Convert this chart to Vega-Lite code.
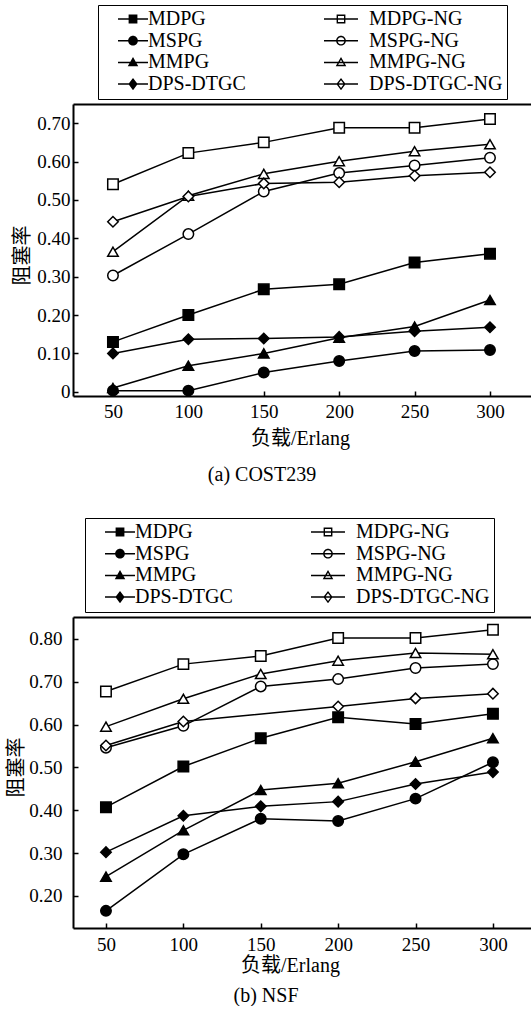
{
  "$schema": "https://vega.github.io/schema/vega-lite/v6.json",
  "background": "white",
  "padding": {"left": 6, "top": 4, "right": 0, "bottom": 0},
  "config": {
    "font": "Liberation Serif, Noto Sans CJK SC",
    "view": {"stroke": null},
    "axis": {
      "domainColor": "black", "domainWidth": 2, "tickColor": "black", "tickWidth": 1.5, "tickSize": -5,
      "labelColor": "black", "titleColor": "black", "labelFont": "Liberation Serif", "labelFontSize": 19,
      "titleFont": "Liberation Serif, Noto Sans CJK SC", "titleFontSize": 20, "titleFontWeight": "normal", "grid": false
    },
    "legend": {
      "strokeColor": "black", "fillColor": "white", "padding": 4, "columns": 2, "rowPadding": 1.7,
      "symbolSize": 1936, "symbolStrokeWidth": 1.5, "symbolOpacity": 1, "symbolFillColor": "black",
      "clipHeight": 20, "labelOffset": 0,
      "labelFont": "Liberation Serif", "labelFontSize": 20, "labelColor": "black", "labelLimit": 300
    },
    "title": {"font": "Liberation Serif", "fontSize": 20, "fontWeight": "normal", "color": "black"}
  },
  "vconcat": [
    {
      "width": 458, "height": 292,
      "title": {"text": "(a) COST239", "orient": "bottom", "anchor": "middle", "dx": -40, "offset": 17},
      "data": {"values": [
        {"load": 50, "series": "MDPG", "rate": 0.130}, {"load": 100, "series": "MDPG", "rate": 0.200}, {"load": 150, "series": "MDPG", "rate": 0.267}, {"load": 200, "series": "MDPG", "rate": 0.280}, {"load": 250, "series": "MDPG", "rate": 0.337}, {"load": 300, "series": "MDPG", "rate": 0.360},
        {"load": 50, "series": "MSPG", "rate": 0.003}, {"load": 100, "series": "MSPG", "rate": 0.003}, {"load": 150, "series": "MSPG", "rate": 0.050}, {"load": 200, "series": "MSPG", "rate": 0.080}, {"load": 250, "series": "MSPG", "rate": 0.106}, {"load": 300, "series": "MSPG", "rate": 0.109},
        {"load": 50, "series": "MMPG", "rate": 0.010}, {"load": 100, "series": "MMPG", "rate": 0.068}, {"load": 150, "series": "MMPG", "rate": 0.100}, {"load": 200, "series": "MMPG", "rate": 0.141}, {"load": 250, "series": "MMPG", "rate": 0.170}, {"load": 300, "series": "MMPG", "rate": 0.239},
        {"load": 50, "series": "DPS-DTGC", "rate": 0.100}, {"load": 100, "series": "DPS-DTGC", "rate": 0.137}, {"load": 150, "series": "DPS-DTGC", "rate": 0.139}, {"load": 200, "series": "DPS-DTGC", "rate": 0.143}, {"load": 250, "series": "DPS-DTGC", "rate": 0.158}, {"load": 300, "series": "DPS-DTGC", "rate": 0.168},
        {"load": 50, "series": "MDPG-NG", "rate": 0.541}, {"load": 100, "series": "MDPG-NG", "rate": 0.622}, {"load": 150, "series": "MDPG-NG", "rate": 0.650}, {"load": 200, "series": "MDPG-NG", "rate": 0.688}, {"load": 250, "series": "MDPG-NG", "rate": 0.688}, {"load": 300, "series": "MDPG-NG", "rate": 0.711},
        {"load": 50, "series": "MSPG-NG", "rate": 0.303}, {"load": 100, "series": "MSPG-NG", "rate": 0.411}, {"load": 150, "series": "MSPG-NG", "rate": 0.522}, {"load": 200, "series": "MSPG-NG", "rate": 0.570}, {"load": 250, "series": "MSPG-NG", "rate": 0.590}, {"load": 300, "series": "MSPG-NG", "rate": 0.610},
        {"load": 50, "series": "MMPG-NG", "rate": 0.365}, {"load": 100, "series": "MMPG-NG", "rate": 0.511}, {"load": 150, "series": "MMPG-NG", "rate": 0.568}, {"load": 200, "series": "MMPG-NG", "rate": 0.601}, {"load": 250, "series": "MMPG-NG", "rate": 0.627}, {"load": 300, "series": "MMPG-NG", "rate": 0.645},
        {"load": 50, "series": "DPS-DTGC-NG", "rate": 0.443}, {"load": 100, "series": "DPS-DTGC-NG", "rate": 0.509}, {"load": 150, "series": "DPS-DTGC-NG", "rate": 0.543}, {"load": 200, "series": "DPS-DTGC-NG", "rate": 0.546}, {"load": 250, "series": "DPS-DTGC-NG", "rate": 0.563}, {"load": 300, "series": "DPS-DTGC-NG", "rate": 0.572}
      ]},
      "resolve": {"axis": {"x": "independent"}, "scale": {"shape": "independent"}},
      "encoding": {
        "y": {"field": "rate", "type": "quantitative", "scale": {"domain": [-0.011, 0.75], "nice": false, "zero": false},
              "axis": {"values": [0, 0.1, 0.2, 0.3, 0.4, 0.5, 0.6, 0.7], "labelExpr": "datum.value === 0 ? '0' : format(datum.value, '.2f')",
                       "title": "阻塞率", "titleX": -51, "titleY": 151, "titleBaseline": "middle", "labelPadding": 8}}
      },
      "layer": [
        {
          "mark": {"type": "line", "stroke": "black", "strokeWidth": 1.5},
          "encoding": {
            "x": {"field": "load", "type": "quantitative", "scale": {"domain": [23.5, 327.2], "nice": false},
                  "axis": {"orient": "bottom", "values": [50, 100, 150, 200, 250, 300], "title": "负载/Erlang", "titleX": 227, "labelPadding": 11, "titlePadding": 7}},
            "detail": {"field": "series"}
          }
        },
        {
          "mark": {"type": "point", "stroke": "black", "strokeWidth": 1.5, "size": 110, "opacity": 1},
          "encoding": {
            "x": {"field": "load", "type": "quantitative",
                  "axis": {"orient": "top", "labels": false, "ticks": false, "title": null, "domain": true}},
            "shape": {"field": "series", "type": "nominal",
              "scale": {"domain": ["MDPG", "MDPG-NG", "MSPG", "MSPG-NG", "MMPG", "MMPG-NG", "DPS-DTGC", "DPS-DTGC-NG"],
                        "range": ["square", "square", "circle", "circle", "triangle-up", "triangle-up", "diamond", "diamond"]},
              "legend": null},
            "fill": {"field": "series", "type": "nominal",
              "scale": {"domain": ["MDPG", "MSPG", "MMPG", "DPS-DTGC", "MDPG-NG", "MSPG-NG", "MMPG-NG", "DPS-DTGC-NG"],
                        "range": ["black", "black", "black", "black", "white", "white", "white", "white"]},
              "legend": null}
          }
        },
        {
          "mark": {"type": "point", "filled": true, "color": "black", "size": 1936, "opacity": 0},
          "encoding": {
            "x": {"field": "load", "type": "quantitative", "axis": null},
            "shape": {"field": "series", "type": "nominal",
              "scale": {"domain": ["MDPG", "MSPG", "MMPG", "DPS-DTGC", "MDPG-NG", "MSPG-NG", "MMPG-NG", "DPS-DTGC-NG"],
                        "range": [
                          "M-1.045,0M-0.318,-0.034L1.045,-0.034L1.045,0.034L-0.318,0.034ZM0.164,-0.2L0.564,-0.2L0.564,0.2L0.164,0.2Z",
                          "M-1.045,0M-0.318,-0.034L1.045,-0.034L1.045,0.034L-0.318,0.034ZM0.144,0A0.22,0.22,0,1,1,0.584,0A0.22,0.22,0,1,1,0.144,0Z",
                          "M-1.045,0M-0.318,-0.034L1.045,-0.034L1.045,0.034L-0.318,0.034ZM0.364,-0.25L0.604,0.17L0.124,0.17Z",
                          "M-1.045,0M-0.318,-0.034L1.045,-0.034L1.045,0.034L-0.318,0.034ZM0.364,-0.28L0.574,0L0.364,0.28L0.154,0Z",
                          "M-1,-0.034L0.545,-0.034L0.545,0.034L-1,0.034ZM-0.427,-0.2L-0.027,-0.2L-0.027,0.2L-0.427,0.2ZM-0.363,-0.136L-0.363,0.136L-0.091,0.136L-0.091,-0.136Z",
                          "M-1,-0.034L0.545,-0.034L0.545,0.034L-1,0.034ZM-0.447,0A0.22,0.22,0,1,1,-0.007,0A0.22,0.22,0,1,1,-0.447,0ZM-0.383,0A0.156,0.156,0,1,0,-0.071,0A0.156,0.156,0,1,0,-0.383,0Z",
                          "M-1,-0.034L0.545,-0.034L0.545,0.034L-1,0.034ZM-0.227,-0.25L0.013,0.17L-0.467,0.17ZM-0.227,-0.121L-0.357,0.106L-0.097,0.106Z",
                          "M-1,-0.034L0.545,-0.034L0.545,0.034L-1,0.034ZM-0.227,-0.28L-0.017,0L-0.227,0.28L-0.437,0ZM-0.227,-0.173L-0.357,0L-0.227,0.173L-0.097,0Z"
                        ]},
              "legend": {"title": null, "orient": "none", "legendX": 25, "legendY": -99, "columnPadding": 77}}
          }
        }
      ]
    },
    {
      "width": 458, "height": 311,
      "title": {"text": "(b) NSF", "orient": "bottom", "anchor": "middle", "dx": -36, "offset": 11},
      "data": {"values": [
        {"load": 50, "series": "MDPG", "rate": 0.407}, {"load": 100, "series": "MDPG", "rate": 0.502}, {"load": 150, "series": "MDPG", "rate": 0.568}, {"load": 200, "series": "MDPG", "rate": 0.617}, {"load": 250, "series": "MDPG", "rate": 0.601}, {"load": 300, "series": "MDPG", "rate": 0.625},
        {"load": 50, "series": "MSPG", "rate": 0.165}, {"load": 100, "series": "MSPG", "rate": 0.297}, {"load": 150, "series": "MSPG", "rate": 0.380}, {"load": 200, "series": "MSPG", "rate": 0.375}, {"load": 250, "series": "MSPG", "rate": 0.427}, {"load": 300, "series": "MSPG", "rate": 0.512},
        {"load": 50, "series": "MMPG", "rate": 0.245}, {"load": 100, "series": "MMPG", "rate": 0.353}, {"load": 150, "series": "MMPG", "rate": 0.447}, {"load": 200, "series": "MMPG", "rate": 0.463}, {"load": 250, "series": "MMPG", "rate": 0.513}, {"load": 300, "series": "MMPG", "rate": 0.568},
        {"load": 50, "series": "DPS-DTGC", "rate": 0.302}, {"load": 100, "series": "DPS-DTGC", "rate": 0.387}, {"load": 150, "series": "DPS-DTGC", "rate": 0.409}, {"load": 200, "series": "DPS-DTGC", "rate": 0.420}, {"load": 250, "series": "DPS-DTGC", "rate": 0.461}, {"load": 300, "series": "DPS-DTGC", "rate": 0.489},
        {"load": 50, "series": "MDPG-NG", "rate": 0.677}, {"load": 100, "series": "MDPG-NG", "rate": 0.741}, {"load": 150, "series": "MDPG-NG", "rate": 0.760}, {"load": 200, "series": "MDPG-NG", "rate": 0.802}, {"load": 250, "series": "MDPG-NG", "rate": 0.802}, {"load": 300, "series": "MDPG-NG", "rate": 0.821},
        {"load": 50, "series": "MSPG-NG", "rate": 0.546}, {"load": 100, "series": "MSPG-NG", "rate": 0.597}, {"load": 150, "series": "MSPG-NG", "rate": 0.689}, {"load": 200, "series": "MSPG-NG", "rate": 0.706}, {"load": 250, "series": "MSPG-NG", "rate": 0.732}, {"load": 300, "series": "MSPG-NG", "rate": 0.741},
        {"load": 50, "series": "MMPG-NG", "rate": 0.595}, {"load": 100, "series": "MMPG-NG", "rate": 0.660}, {"load": 150, "series": "MMPG-NG", "rate": 0.718}, {"load": 200, "series": "MMPG-NG", "rate": 0.749}, {"load": 250, "series": "MMPG-NG", "rate": 0.767}, {"load": 300, "series": "MMPG-NG", "rate": 0.764},
        {"load": 50, "series": "DPS-DTGC-NG", "rate": 0.551}, {"load": 100, "series": "DPS-DTGC-NG", "rate": 0.607}, {"load": 200, "series": "DPS-DTGC-NG", "rate": 0.642}, {"load": 250, "series": "DPS-DTGC-NG", "rate": 0.661}, {"load": 300, "series": "DPS-DTGC-NG", "rate": 0.672}
      ]},
      "resolve": {"axis": {"x": "independent"}, "scale": {"shape": "independent"}},
      "encoding": {
        "y": {"field": "rate", "type": "quantitative", "scale": {"domain": [0.125, 0.851], "nice": false, "zero": false},
              "axis": {"values": [0.2, 0.3, 0.4, 0.5, 0.6, 0.7, 0.8], "format": ".2f",
                       "title": "阻塞率", "titleX": -57, "titleY": 150, "titleBaseline": "middle", "labelPadding": 16}}
      },
      "layer": [
        {
          "mark": {"type": "line", "stroke": "black", "strokeWidth": 1.5},
          "encoding": {
            "x": {"field": "load", "type": "quantitative", "scale": {"domain": [28.7, 324.6], "nice": false},
                  "axis": {"orient": "bottom", "values": [50, 100, 150, 200, 250, 300], "title": "负载/Erlang", "titleX": 217, "labelPadding": 12, "titlePadding": 1}},
            "detail": {"field": "series"}
          }
        },
        {
          "mark": {"type": "point", "stroke": "black", "strokeWidth": 1.5, "size": 110, "opacity": 1},
          "encoding": {
            "x": {"field": "load", "type": "quantitative",
                  "axis": {"orient": "top", "labels": false, "ticks": false, "title": null, "domain": true}},
            "shape": {"field": "series", "type": "nominal",
              "scale": {"domain": ["MDPG", "MDPG-NG", "MSPG", "MSPG-NG", "MMPG", "MMPG-NG", "DPS-DTGC", "DPS-DTGC-NG"],
                        "range": ["square", "square", "circle", "circle", "triangle-up", "triangle-up", "diamond", "diamond"]},
              "legend": null},
            "fill": {"field": "series", "type": "nominal",
              "scale": {"domain": ["MDPG", "MSPG", "MMPG", "DPS-DTGC", "MDPG-NG", "MSPG-NG", "MMPG-NG", "DPS-DTGC-NG"],
                        "range": ["black", "black", "black", "black", "white", "white", "white", "white"]},
              "legend": null}
          }
        },
        {
          "mark": {"type": "point", "filled": true, "color": "black", "size": 1936, "opacity": 0},
          "encoding": {
            "x": {"field": "load", "type": "quantitative", "axis": null},
            "shape": {"field": "series", "type": "nominal",
              "scale": {"domain": ["MDPG", "MSPG", "MMPG", "DPS-DTGC", "MDPG-NG", "MSPG-NG", "MMPG-NG", "DPS-DTGC-NG"],
                        "range": [
                          "M-1.045,0M-0.318,-0.034L1.045,-0.034L1.045,0.034L-0.318,0.034ZM0.164,-0.2L0.564,-0.2L0.564,0.2L0.164,0.2Z",
                          "M-1.045,0M-0.318,-0.034L1.045,-0.034L1.045,0.034L-0.318,0.034ZM0.144,0A0.22,0.22,0,1,1,0.584,0A0.22,0.22,0,1,1,0.144,0Z",
                          "M-1.045,0M-0.318,-0.034L1.045,-0.034L1.045,0.034L-0.318,0.034ZM0.364,-0.25L0.604,0.17L0.124,0.17Z",
                          "M-1.045,0M-0.318,-0.034L1.045,-0.034L1.045,0.034L-0.318,0.034ZM0.364,-0.28L0.574,0L0.364,0.28L0.154,0Z",
                          "M-1,-0.034L0.545,-0.034L0.545,0.034L-1,0.034ZM-0.427,-0.2L-0.027,-0.2L-0.027,0.2L-0.427,0.2ZM-0.363,-0.136L-0.363,0.136L-0.091,0.136L-0.091,-0.136Z",
                          "M-1,-0.034L0.545,-0.034L0.545,0.034L-1,0.034ZM-0.447,0A0.22,0.22,0,1,1,-0.007,0A0.22,0.22,0,1,1,-0.447,0ZM-0.383,0A0.156,0.156,0,1,0,-0.071,0A0.156,0.156,0,1,0,-0.383,0Z",
                          "M-1,-0.034L0.545,-0.034L0.545,0.034L-1,0.034ZM-0.227,-0.25L0.013,0.17L-0.467,0.17ZM-0.227,-0.121L-0.357,0.106L-0.097,0.106Z",
                          "M-1,-0.034L0.545,-0.034L0.545,0.034L-1,0.034ZM-0.227,-0.28L-0.017,0L-0.227,0.28L-0.437,0ZM-0.227,-0.173L-0.357,0L-0.227,0.173L-0.097,0Z"
                        ]},
              "legend": {"title": null, "orient": "none", "legendX": 12, "legendY": -99, "columnPadding": 77}}
          }
        }
      ]
    }
  ],
  "spacing": 32,
  "resolve": {"scale": {"shape": "independent", "fill": "independent"}}
}
